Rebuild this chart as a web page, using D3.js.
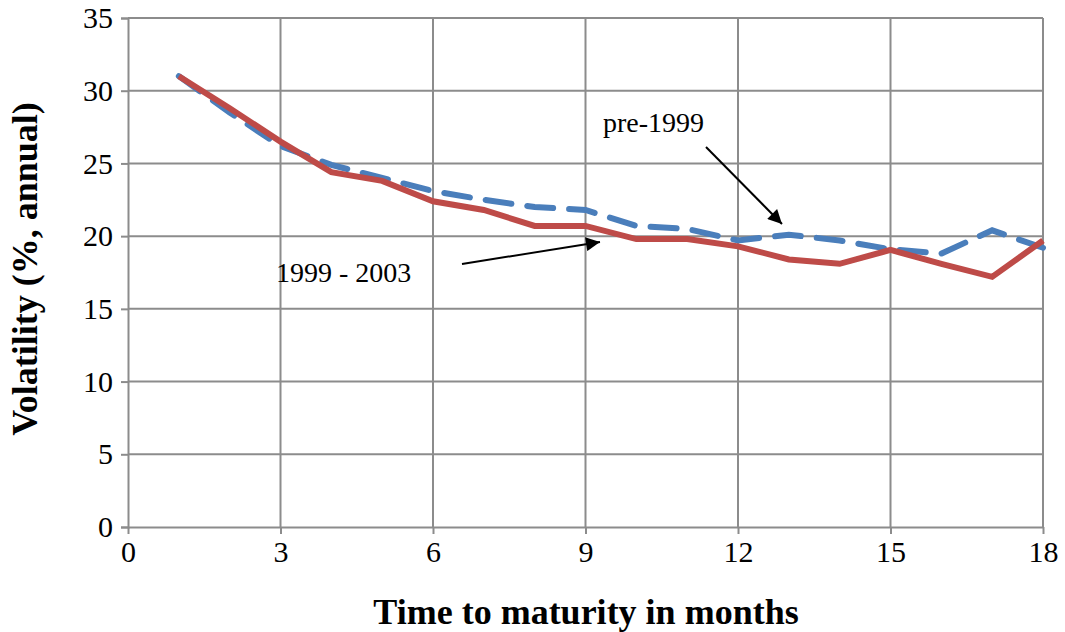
<!DOCTYPE html>
<html><head><meta charset="utf-8">
<script src="https://cdn.jsdelivr.net/npm/d3@7"></script>
<style>body{margin:0;background:#fff}</style>
</head><body>
<svg id="chart" width="1065" height="632"></svg>
<script>
var months = [1,2,3,4,5,6,7,8,9,10,11,12,13,14,15,16,17,18];
var pre1999 = [31,28.5,26.2,24.9,24.0,23.1,22.5,22.0,21.8,20.7,20.5,19.7,20.1,19.7,19.1,18.8,20.4,19.2];
var recent = [31,28.8,26.5,24.4,23.8,22.4,21.8,20.7,20.7,19.8,19.8,19.3,18.4,18.1,19.05,18.1,17.2,19.7];
var xTicks = [0,3,6,9,12,15,18];
var yTicks = [0,5,10,15,20,25,30,35];

var svg = d3.select("#chart");
var font = "Liberation Serif, Times New Roman, serif";
var x = d3.scaleLinear().domain([0,18]).range([128,1043]);
var y = d3.scaleLinear().domain([0,35]).range([527,18]);

// grid
svg.append("g").selectAll("line").data(xTicks.slice(1)).enter().append("line")
    .attr("x1", function (d) { return x(d); }).attr("x2", function (d) { return x(d); })
    .attr("y1", y(0)).attr("y2", y(35)).style("stroke", "#8c8c8c").style("stroke-width", 2);
svg.append("g").selectAll("line").data(yTicks.slice(1)).enter().append("line")
    .attr("x1", x(0)).attr("x2", x(18))
    .attr("y1", function (d) { return y(d); }).attr("y2", function (d) { return y(d); })
    .style("stroke", "#8c8c8c").style("stroke-width", 2);

var xAxis = svg.append("g").attr("transform", "translate(0," + y(0) + ")")
    .call(d3.axisBottom(x).tickValues(xTicks).tickSize(0).tickPadding(14));
var yAxis = svg.append("g").attr("transform", "translate(" + x(0) + ",0)")
    .call(d3.axisLeft(y).tickValues(yTicks).tickSize(7).tickPadding(8));
[xAxis, yAxis].forEach(function (a) {
    a.attr("font-size", null).attr("font-family", null);
    a.selectAll("path,line").style("stroke", "#8c8c8c").style("stroke-width", 2);
    a.selectAll("text").style("font-family", font).style("font-size", "30px").style("fill", "#000");
});
xAxis.selectAll(".tick").append("line").attr("y2", 7).style("stroke", "#8c8c8c").style("stroke-width", 2);

var line = d3.line().x(function (d, i) { return x(months[i]); }).y(function (d) { return y(d); });
svg.append("path").datum(pre1999).attr("d", line)
    .style("fill", "none").style("stroke", "#4a7ebb").style("stroke-width", 6)
    .style("stroke-dasharray", "26,16").style("stroke-linecap", "round");
svg.append("path").datum(recent).attr("d", line)
    .style("fill", "none").style("stroke", "#be4b48").style("stroke-width", 6);

// annotations
svg.append("defs").append("marker").attr("id", "ah").attr("viewBox", "0 0 10 10")
    .attr("refX", 10).attr("refY", 5).attr("markerWidth", 18).attr("markerHeight", 14)
    .attr("orient", "auto").attr("markerUnits", "userSpaceOnUse")
    .append("path").attr("d", "M0,0L10,5L0,10z");
svg.append("line").attr("x1", 706).attr("y1", 147).attr("x2", 782).attr("y2", 224)
    .style("stroke", "#000").style("stroke-width", 2).attr("marker-end", "url(#ah)");
svg.append("line").attr("x1", 462).attr("y1", 264).attr("x2", 600).attr("y2", 242)
    .style("stroke", "#000").style("stroke-width", 2).attr("marker-end", "url(#ah)");
svg.append("text").attr("x", 603).attr("y", 132).text("pre-1999")
    .style("font-family", font).style("font-size", "28px");
svg.append("text").attr("x", 276).attr("y", 282).text("1999 - 2003")
    .style("font-family", font).style("font-size", "28px");

svg.append("text").attr("x", 586).attr("y", 624).attr("text-anchor", "middle")
    .text("Time to maturity in months")
    .style("font-family", font).style("font-size", "36px").style("font-weight", "bold");
svg.append("text").attr("transform", "translate(37,269) rotate(-90)").attr("text-anchor", "middle")
    .text("Volatility (%, annual)")
    .style("font-family", font).style("font-size", "36px").style("font-weight", "bold");
</script>
</body></html>
